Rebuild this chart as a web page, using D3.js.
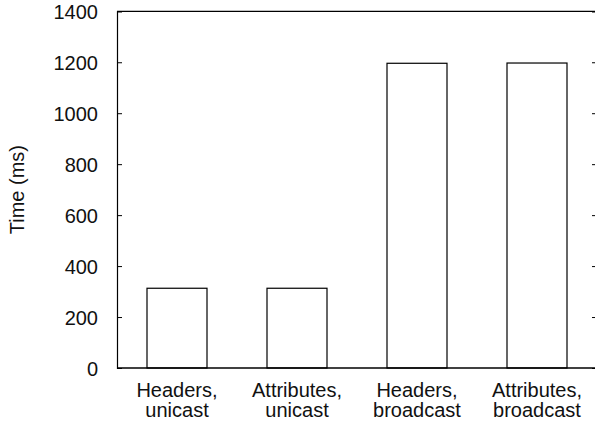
<!DOCTYPE html>
<html>
<head>
<meta charset="utf-8">
<script src="https://cdn.jsdelivr.net/npm/d3@7"></script>
<style>
  html, body { margin: 0; padding: 0; background: #fff; }
  svg text { font-family: "Liberation Sans", Arial, Helvetica, sans-serif; fill: #111; }
</style>
</head>
<body>
<svg id="chart" width="595" height="423"></svg>
<script>
const categories = [
  ['Headers,', 'unicast'],
  ['Attributes,', 'unicast'],
  ['Headers,', 'broadcast'],
  ['Attributes,', 'broadcast']
]
const times = [313, 313, 1196, 1197]
const yTicks = [0, 200, 400, 600, 800, 1000, 1200, 1400]

const svg = d3.select('#chart')
const plotLeft = 117
const plotRight = 597
const plotTop = 11.3
const plotBottom = 368

const x = d3.scaleBand()
  .domain(d3.range(categories.length))
  .range([plotLeft, plotRight])
  .paddingInner(0.5)
  .paddingOuter(0.25)

const y = d3.scaleLinear()
  .domain([0, 1400])
  .range([plotBottom, plotTop])

// bars
svg.append('g')
  .selectAll('rect')
  .data(times)
  .join('rect')
  .attr('x', (d, i) => x(i))
  .attr('y', d => y(d))
  .attr('width', x.bandwidth())
  .attr('height', d => plotBottom - y(d))
  .attr('fill', '#fff')
  .attr('stroke', '#000')
  .attr('stroke-width', 1.2)

// left axis with inward ticks
const yAxis = svg.append('g')
  .attr('transform', `translate(${plotLeft},0)`)
  .call(d3.axisLeft(y).tickValues(yTicks).tickSize(-5).tickPadding(19).tickFormat(d3.format('d')))
yAxis.select('.domain').attr('stroke', '#000').attr('stroke-width', 1.2)
yAxis.selectAll('.tick line').attr('stroke', '#000')
yAxis.selectAll('.tick text').attr('font-size', 20).attr('dy', '0.36em')
yAxis.selectAll('.tick').filter(d => d === 0 || d === 1400).select('line').remove()

// right axis ticks
const yRight = svg.append('g')
  .attr('transform', `translate(${plotRight},0)`)
  .call(d3.axisRight(y).tickValues(yTicks).tickSize(-5).tickFormat(''))
yRight.select('.domain').attr('stroke', '#000').attr('stroke-width', 1.2)
yRight.selectAll('.tick line').attr('stroke', '#000')
yRight.selectAll('.tick').filter(d => d === 0 || d === 1400).select('line').remove()

// frame top and bottom
svg.append('line')
  .attr('x1', plotLeft).attr('x2', plotRight)
  .attr('y1', y(1400)).attr('y2', y(1400))
  .attr('stroke', '#000').attr('stroke-width', 1.2)
svg.append('line')
  .attr('x1', plotLeft).attr('x2', plotRight)
  .attr('y1', y(0)).attr('y2', y(0))
  .attr('stroke', '#000').attr('stroke-width', 1.5)

// category labels
const labels = svg.append('g')
  .selectAll('text')
  .data(categories)
  .join('text')
  .attr('text-anchor', 'middle')
  .attr('font-size', 20)
  .attr('transform', (d, i) => `translate(${x(i) + x.bandwidth() / 2},397.3)`)

labels.selectAll('tspan')
  .data(d => d)
  .join('tspan')
  .attr('x', 0)
  .attr('y', (d, j) => j * 19.4)
  .text(d => d)

// y axis title
svg.append('text')
  .attr('transform', `translate(24,${(plotTop + plotBottom) / 2}) rotate(-90)`)
  .attr('text-anchor', 'middle')
  .attr('font-size', 20)
  .text('Time (ms)')
</script>
</body>
</html>
